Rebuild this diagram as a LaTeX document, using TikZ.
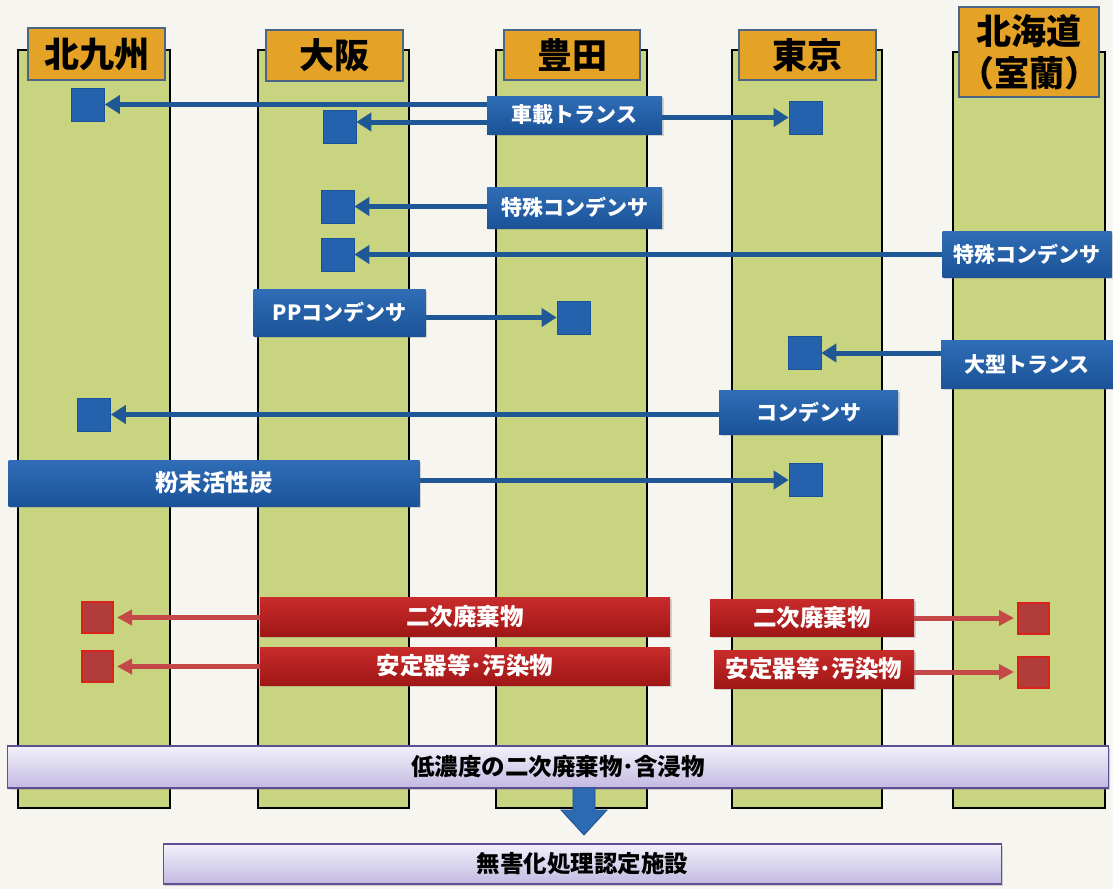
\documentclass[tikz,border=0pt]{standalone}
\usepackage{fontspec}
\setmainfont{Noto Sans CJK JP}
\newfontfamily\jp{Noto Sans CJK JP}
\usetikzlibrary{arrows.meta,shadows,calc}
\definecolor{bg}{HTML}{F6F5F0}
\definecolor{colfill}{HTML}{C8D47F}
\definecolor{hdrfill}{HTML}{E4A226}
\definecolor{hdrline}{HTML}{4B6584}
\definecolor{bluetop}{HTML}{2F6DB6}
\definecolor{bluebot}{HTML}{1B5398}
\definecolor{blueline}{HTML}{1F5894}
\definecolor{bluesqc}{HTML}{2462AE}
\definecolor{redtop}{HTML}{C92B2B}
\definecolor{redbot}{HTML}{A01616}
\definecolor{redline}{HTML}{C44848}
\definecolor{redsqc}{HTML}{B23C3C}
\definecolor{redsqline}{HTML}{D8221C}
\definecolor{lavtop}{HTML}{F3F1FA}
\definecolor{lavbot}{HTML}{C2B9E2}
\definecolor{lavline}{HTML}{5E4E94}
\definecolor{dArrow}{HTML}{2C6AB2}
\definecolor{dArrowLine}{HTML}{1D4F8E}
\begin{document}
\begin{tikzpicture}[x=1pt,y=-1pt,
  column/.style={draw=black, line width=2pt, fill=colfill, inner sep=0pt},
  header/.style={draw=hdrline, line width=1.2pt, fill=hdrfill, text=black, inner sep=0pt, align=center,
    font=\jp\bfseries\fontsize{35}{42}\selectfont},
  bluebox/.style={rectangle, top color=bluetop, bottom color=bluebot, text=white, inner sep=0pt,
    font=\jp\bfseries\fontsize{21}{25}\selectfont,
    drop shadow={opacity=0.3, shadow xshift=1.5pt, shadow yshift=-1.5pt}},
  bluesq/.style={rectangle, fill=bluesqc, draw=bluebot, line width=0.6pt, minimum size=33pt, inner sep=0pt},
  barrow/.style={draw=blueline, line width=5pt, -{Triangle[length=15pt,width=18pt]}},
  redbox/.style={rectangle, top color=redtop, bottom color=redbot, text=white, inner sep=0pt,
    font=\jp\bfseries\fontsize{23.5}{27}\selectfont,
    drop shadow={opacity=0.3, shadow xshift=1.5pt, shadow yshift=-1.5pt}},
  redsq/.style={rectangle, fill=redsqc, draw=redsqline, line width=2pt, minimum size=31pt, inner sep=0pt},
  rarrow/.style={draw=redline, line width=5pt, -{Triangle[length=15pt,width=15pt]}},
  lavbar/.style={rectangle, top color=lavtop, bottom color=lavbot, draw=lavline, line width=1.5pt,
    text=black, inner sep=0pt, font=\jp\bfseries\fontsize{23.5}{27}\selectfont,
    drop shadow={opacity=0.35, shadow xshift=1.5pt, shadow yshift=-2pt}}
]
\fill[bg] (0,0) rectangle (1113,889);
\useasboundingbox (0,0) rectangle (1113,889);

% columns
\node[column, minimum width=152pt, minimum height=758pt] (c1) at (94,429) {};
\node[column, minimum width=151pt, minimum height=758pt] (c2) at (333.5,429) {};
\node[column, minimum width=151pt, minimum height=758pt] (c3) at (571.5,429) {};
\node[column, minimum width=150pt, minimum height=758pt] (c4) at (807,429) {};
\node[column, minimum width=152pt, minimum height=756pt] (c5) at (1029,430) {};

% headers
\node[header, minimum width=137pt, minimum height=52pt] (h1) at (96.5,54) {北九州};
\node[header, minimum width=137pt, minimum height=51pt] (h2) at (334.5,55.5) {大阪};
\node[header, minimum width=136pt, minimum height=50pt] (h3) at (572,55) {豊田};
\node[header, minimum width=137pt, minimum height=50pt] (h4) at (807.5,55) {東京};
\node[header, minimum width=136pt, minimum height=90pt] (h5) at (1029,52) {北海道\\（室蘭）};

% blue boxes
\node[bluebox, minimum width=175pt, minimum height=38pt] (b1) at (574.5,115) {車載トランス};
\node[bluebox, minimum width=175pt, minimum height=41pt] (b2) at (574.5,207.5) {特殊コンデンサ};
\node[bluebox, minimum width=169pt, minimum height=46pt] (b3) at (1027,254) {特殊コンデンサ};
\node[bluebox, minimum width=172pt, minimum height=47pt] (b4) at (339.5,312.5) {PPコンデンサ};
\node[bluebox, minimum width=172pt, minimum height=48pt] (b5) at (1027,364.5) {大型トランス};
\node[bluebox, minimum width=179pt, minimum height=44pt] (b6) at (808.5,412.5) {コンデンサ};
\node[bluebox, minimum width=411pt, minimum height=46pt, font=\jp\bfseries\fontsize{23.5}{27}\selectfont] (b7) at (214,483) {粉末活性炭};

% blue squares
\node[bluesq] (s1) at (88,104.5) {};
\node[bluesq] (s2) at (339.5,127) {};
\node[bluesq] (s3) at (805.5,117.5) {};
\node[bluesq] (s4) at (337.5,206.5) {};
\node[bluesq] (s5) at (337.5,254.5) {};
\node[bluesq] (s6) at (573.5,317.5) {};
\node[bluesq] (s7) at (804.5,353) {};
\node[bluesq] (s8) at (94,414.5) {};
\node[bluesq] (s9) at (805.5,480) {};

% blue arrows
\draw[barrow] (b1.west |- s1.east) -- (s1.east);
\draw[barrow] ($(b1.west |- s2.east)+(0,-5)$) -- ($(s2.east)+(0,-5)$);
\draw[barrow] (b1.east |- s3.west) -- (s3.west);
\draw[barrow] (b2.west |- s4.east) -- (s4.east);
\draw[barrow] (b3.west |- s5.east) -- (s5.east);
\draw[barrow] (b4.east |- s6.west) -- (s6.west);
\draw[barrow] (b5.west |- s7.east) -- (s7.east);
\draw[barrow] (b6.west |- s8.east) -- (s8.east);
\draw[barrow] (b7.east |- s9.west) -- (s9.west);

% red boxes
\node[redbox, minimum width=410pt, minimum height=39pt] (r1) at (465,617) {二次廃棄物};
\node[redbox, minimum width=410pt, minimum height=38pt] (r2) at (465,666) {安定器等･汚染物};
\node[redbox, minimum width=204pt, minimum height=37pt] (r3) at (812,617.5) {二次廃棄物};
\node[redbox, minimum width=200pt, minimum height=38pt] (r4) at (814,669) {安定器等･汚染物};

% red squares
\node[redsq] (q1) at (97.5,617.5) {};
\node[redsq] (q2) at (97.5,666.5) {};
\node[redsq] (q3) at (1033.5,618) {};
\node[redsq] (q4) at (1033.5,672) {};

% red arrows
\draw[rarrow] (r1.west |- q1.east) -- ([xshift=3pt]q1.east);
\draw[rarrow] (r2.west |- q2.east) -- ([xshift=3pt]q2.east);
\draw[rarrow] (r3.east |- q3.west) -- ([xshift=-3pt]q3.west);
\draw[rarrow] (r4.east |- q4.west) -- ([xshift=-3pt]q4.west);

% lavender bars
\node[lavbar, minimum width=1101pt, minimum height=42pt] (L1) at (558,767) {低濃度の二次廃棄物･含浸物};
\node[lavbar, minimum width=838pt, minimum height=40pt] (L2) at (582.5,864) {無害化処理認定施設};

% down block arrow
\coordinate (da) at (584,788);
\filldraw[fill=dArrow, draw=dArrowLine, line width=0.8pt]
  ($(da)+(-11,0)$) -- ($(da)+(11,0)$) -- ($(da)+(11,22)$) -- ($(da)+(23,22)$)
  -- ($(da)+(0,47)$) -- ($(da)+(-23,22)$) -- ($(da)+(-11,22)$) -- cycle;
\end{tikzpicture}
\end{document}
